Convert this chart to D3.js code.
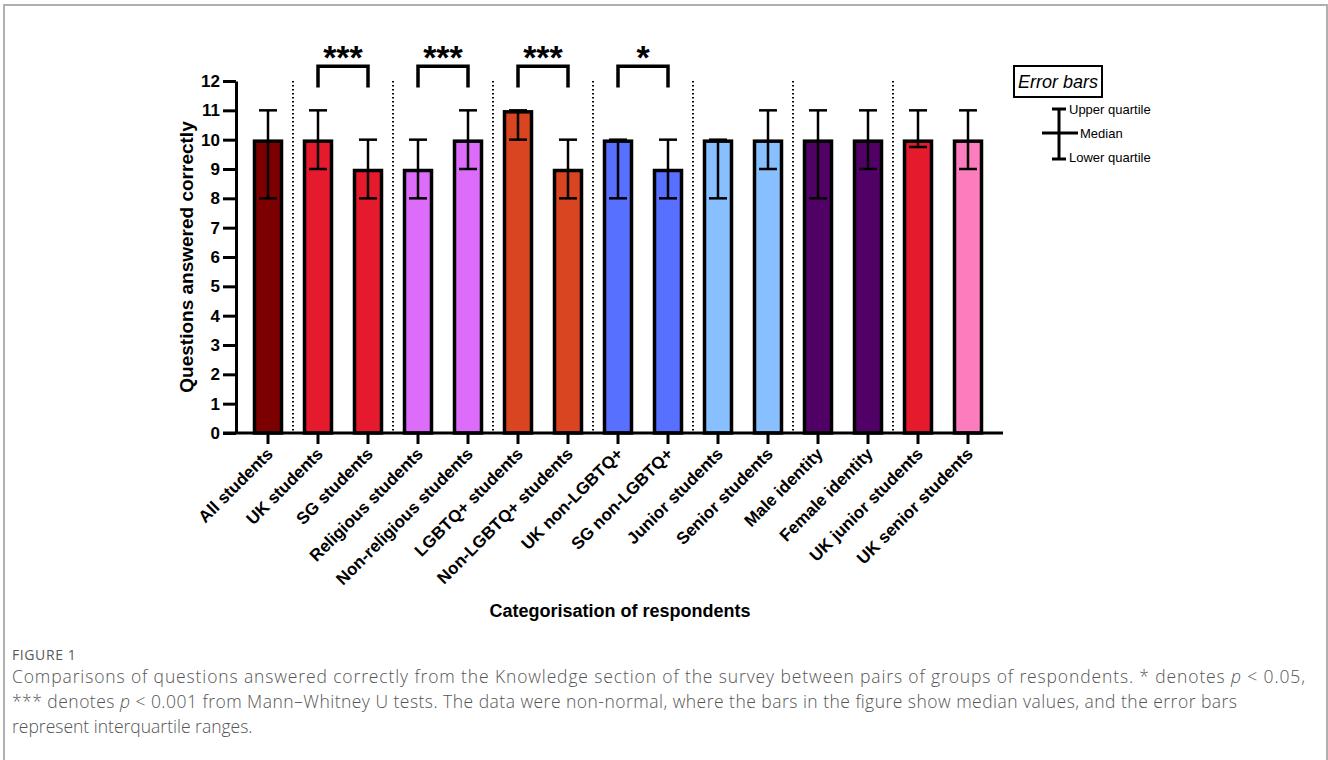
<!DOCTYPE html>
<html>
<head>
<meta charset="utf-8">
<script src="https://cdn.jsdelivr.net/npm/d3@7"></script>
<style>
  body { margin: 0; background: #fff; }
  svg { display: block; }
  .axis text { font-family: "Liberation Sans", Arial, sans-serif; font-weight: bold; fill: #000; }
</style>
</head>
<body>
<div id="view"></div>
<script>
// ---------- Data ----------
const categories = [
  "All students", "UK students", "SG students", "Religious students",
  "Non-religious students", "LGBTQ+ students", "Non-LGBTQ+ students",
  "UK non-LGBTQ+", "SG non-LGBTQ+", "Junior students", "Senior students",
  "Male identity", "Female identity", "UK junior students", "UK senior students"
];
const medians = [10, 10, 9, 9, 10, 11, 9, 10, 9, 10, 10, 10, 10, 10, 10];
const lowerQ  = [8, 9, 8, 8, 9, 10, 8, 8, 8, 8, 9, 8, 9, 9.75, 9];
const upperQ  = [11, 11, 10, 10, 11, 11, 10, 10, 10, 10, 11, 11, 11, 11, 11];
const barColors = [
  "#7d0000", "#e61a2d", "#e61a2d", "#dd6cfa", "#dd6cfa",
  "#d94421", "#d94421", "#5870ff", "#5870ff", "#88bfff",
  "#88bfff", "#510066", "#510066", "#e61a2d", "#fb7dbd"
];
const yTicks = d3.range(0, 13);
const groupBreaks = [0, 2, 4, 6, 8, 10, 12];   // dotted line after these bars
const sigPairs  = [[1, 2], [3, 4], [5, 6], [7, 8]];
const sigLabels = ["***", "***", "***", "*"];

// "|" toggles italic
const captionLines = [
  "Comparisons of questions answered correctly from the Knowledge section of the survey between pairs of groups of respondents. * denotes |p| < 0.05,",
  "*** denotes |p| < 0.001 from Mann\u2013Whitney U tests. The data were non-normal, where the bars in the figure show median values, and the error bars",
  "represent interquartile ranges."
];
const captionWidths = [1293, 1225, null];

// ---------- Layout ----------
const W = 1328, H = 760;
const FONT = '"Liberation Sans", Arial, sans-serif';

const svg = d3.select("#view").append("svg")
  .attr("width", W).attr("height", H);

svg.append("rect").attr("width", W).attr("height", H).attr("fill", "#fff");

// frame
svg.append("rect")
  .attr("x", 4).attr("y", 5).attr("width", 1323).attr("height", 800)
  .attr("fill", "none").attr("stroke", "#b0b0b0").attr("stroke-width", 2);

const x = d3.scaleBand()
  .domain(categories)
  .range([243, 993])
  .paddingInner(0.4)
  .paddingOuter(0.2);

const y = d3.scaleLinear().domain([0, 12]).range([433, 81]);
const cx = i => x(categories[i]) + x.bandwidth() / 2;

// ---------- Dotted separators ----------
svg.selectAll("line.sep")
  .data(groupBreaks)
  .join("line")
  .attr("class", "sep")
  .attr("x1", i => (cx(i) + cx(i + 1)) / 2)
  .attr("x2", i => (cx(i) + cx(i + 1)) / 2)
  .attr("y1", y(12))
  .attr("y2", y(0))
  .attr("stroke", "#000")
  .attr("stroke-width", 2)
  .attr("stroke-dasharray", "1.5,2.5");

// ---------- Bars ----------
svg.selectAll("rect.bar")
  .data(categories)
  .join("rect")
  .attr("class", "bar")
  .attr("x", d => x(d) + 1.5)
  .attr("width", x.bandwidth() - 3)
  .attr("y", (d, i) => y(medians[i]) + 1.5)
  .attr("height", (d, i) => y(0) - y(medians[i]) - 1.5)
  .attr("fill", (d, i) => barColors[i])
  .attr("stroke", "#000")
  .attr("stroke-width", 3.5);

// ---------- Error bars ----------
const capW = 9;
const eb = svg.append("g").attr("stroke", "#000").attr("stroke-width", 2.5);
categories.forEach((c, i) => {
  const xc = cx(i);
  eb.append("line").attr("x1", xc).attr("x2", xc)
    .attr("y1", y(lowerQ[i])).attr("y2", y(upperQ[i]));
  eb.append("line").attr("x1", xc - capW).attr("x2", xc + capW)
    .attr("y1", y(upperQ[i])).attr("y2", y(upperQ[i]));
  eb.append("line").attr("x1", xc - capW).attr("x2", xc + capW)
    .attr("y1", y(lowerQ[i])).attr("y2", y(lowerQ[i]));
});

// ---------- Axes ----------
const yAxis = svg.append("g")
  .attr("class", "axis")
  .attr("transform", "translate(236,0)")
  .call(d3.axisLeft(y).tickValues(yTicks).tickSize(13).tickSizeOuter(0).tickPadding(3));
yAxis.selectAll("line, path").attr("stroke", "#000").attr("stroke-width", 3);
yAxis.selectAll("text").style("font-size", "17px");

const xAxis = svg.append("g")
  .attr("class", "axis")
  .attr("transform", `translate(0,${y(0)})`)
  .call(d3.axisBottom(x).tickSize(11).tickSizeOuter(0).tickFormat(""));
xAxis.select(".domain").attr("d", "M223,0H1003");
xAxis.selectAll("line, path").attr("stroke", "#000").attr("stroke-width", 3);

// rotated category labels
svg.selectAll("text.xlab")
  .data(categories)
  .join("text")
  .attr("class", "xlab")
  .attr("transform", (d, i) => `translate(${cx(i) + 6},${y(0) + 22}) rotate(-45)`)
  .attr("text-anchor", "end")
  .style("font-family", FONT)
  .style("font-weight", "bold")
  .style("font-size", "17px")
  .text(d => d);

// axis titles
svg.append("text")
  .attr("transform", `translate(193,${(y(0) + y(12)) / 2}) rotate(-90)`)
  .attr("text-anchor", "middle")
  .style("font-family", FONT).style("font-weight", "bold").style("font-size", "19px")
  .text("Questions answered correctly");

svg.append("text")
  .attr("x", 620).attr("y", 617)
  .attr("text-anchor", "middle")
  .style("font-family", FONT).style("font-weight", "bold").style("font-size", "18px")
  .text("Categorisation of respondents");

// ---------- Significance brackets ----------
const bTop = y(12.5), bLeg = y(11.78);
sigPairs.forEach(([a, b], k) => {
  svg.append("path")
    .attr("d", `M${cx(a)},${bLeg}V${bTop}H${cx(b)}V${bLeg}`)
    .attr("fill", "none").attr("stroke", "#000").attr("stroke-width", 3.5);
  svg.append("text")
    .attr("x", (cx(a) + cx(b)) / 2).attr("y", bTop + 3)
    .attr("text-anchor", "middle")
    .style("font-family", FONT).style("font-weight", "bold").style("font-size", "34px")
    .text(sigLabels[k]);
});

// ---------- Legend ----------
const lg = svg.append("g").style("font-family", FONT);
lg.append("rect").attr("x", 1014).attr("y", 66).attr("width", 88).attr("height", 31)
  .attr("fill", "none").attr("stroke", "#000").attr("stroke-width", 2);
lg.append("text").attr("x", 1058).attr("y", 88).attr("text-anchor", "middle")
  .style("font-style", "italic").style("font-size", "18px").text("Error bars");
const lgl = lg.append("g").attr("stroke", "#000").attr("stroke-width", 3);
lgl.append("line").attr("x1", 1059).attr("x2", 1059).attr("y1", 109).attr("y2", 159);
lgl.append("line").attr("x1", 1052).attr("x2", 1066).attr("y1", 109).attr("y2", 109);
lgl.append("line").attr("x1", 1052).attr("x2", 1066).attr("y1", 159).attr("y2", 159);
lgl.append("line").attr("x1", 1042).attr("x2", 1078).attr("y1", 133).attr("y2", 133);
[["Upper quartile", 1069, 114], ["Median", 1080, 138], ["Lower quartile", 1069, 162]]
  .forEach(([t, tx, ty]) => {
    lg.append("text").attr("x", tx).attr("y", ty).style("font-size", "13px").text(t);
  });

// ---------- Caption ----------
const CAP_FONT = '"Open Sans", "Noto Sans", sans-serif';
svg.append("text")
  .attr("x", 12).attr("y", 660)
  .style("font-family", CAP_FONT).style("font-size", "14px").style("fill", "#5a5a5a")
  .style("letter-spacing", "0.6px")
  .text("FIGURE 1");

captionLines.forEach((line, i) => {
  const t = svg.append("text")
    .attr("x", 12).attr("y", 683 + i * 25)
    .style("font-family", CAP_FONT).style("font-weight", "300")
    .style("font-size", "17.5px").style("fill", "#555");
  if (captionWidths[i]) t.attr("textLength", captionWidths[i]).attr("lengthAdjust", "spacing");
  line.split("|").forEach((part, j) => {
    t.append("tspan").style("font-style", j % 2 ? "italic" : "normal").text(part);
  });
});
</script>
</body>
</html>
